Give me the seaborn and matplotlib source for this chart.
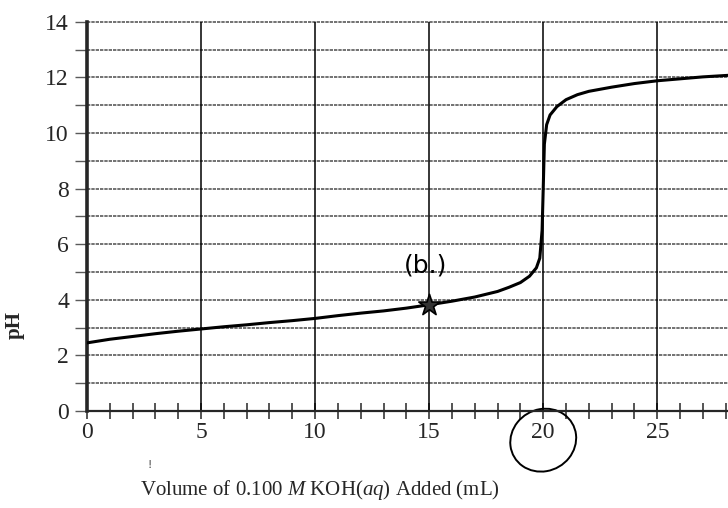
"""Titration curve: pH vs volume of 0.100 M KOH added."""

import seaborn as sns
import matplotlib.pyplot as plt
import matplotlib.patches as mpatches
from matplotlib.ticker import MultipleLocator
import pandas as pd

# Values.
volume_ml = [0, 1, 2, 3, 4, 5, 6, 7, 8, 9, 10, 11, 12, 13, 14, 15, 16, 17,
             18, 18.5, 19, 19.4, 19.7, 19.85, 19.95, 20.0, 20.05, 20.15,
             20.3, 20.6, 21, 21.5, 22, 23, 24, 25, 26, 27, 28.2]
ph_values = [2.45, 2.58, 2.68, 2.78, 2.87, 2.95, 3.03, 3.1, 3.18, 3.25,
             3.33, 3.43, 3.52, 3.6, 3.7, 3.82, 3.95, 4.1, 4.3, 4.45, 4.62,
             4.85, 5.15, 5.5, 6.5, 8.0, 9.6, 10.3, 10.65, 10.95, 11.2,
             11.38, 11.5, 11.65, 11.78, 11.88, 11.95, 12.02, 12.08]

x_ticks = [0, 5, 10, 15, 20, 25]
y_ticks = [0, 2, 4, 6, 8, 10, 12, 14]

# Handwritten marks on the scan.
star_point = (15, 3.8)
note_text = "(b.)"

df = pd.DataFrame({"volume": volume_ml, "ph": ph_values})

sns.set_style("ticks")
plt.rcParams["font.family"] = ["Liberation Serif", "DejaVu Serif"]
plt.rcParams["mathtext.fontset"] = "custom"
plt.rcParams["mathtext.it"] = "Liberation Serif:italic"
plt.rcParams["mathtext.rm"] = "Liberation Serif"

fig = plt.figure(figsize=(7.28, 5.08), dpi=100)
ax = fig.add_axes([0.1195, 0.191, 0.8805, 0.766])

# Grid: noisy grey horizontal rules, solid black verticals every 5 mL.
for y in range(1, 15):
    ax.axhline(y, color="#5a5a5a", lw=1.2, ls=(0, (2, 0.6)), zorder=1,
               clip_on=False)
for x in x_ticks[1:]:
    ax.axvline(x, color="black", lw=1.1, zorder=1)

# Titration curve.
sns.lineplot(data=df, x="volume", y="ph", color="black", lw=2.2, ax=ax,
             zorder=3, sort=False)

# Star and note.
ax.scatter([star_point[0]], [star_point[1]], marker="*", s=260,
           facecolor="#333333", edgecolor="black", linewidths=1.2, zorder=4)
ax.text(14.85, 5.25, note_text, fontsize=18, family="DejaVu Sans",
        color="black", ha="center", va="center", zorder=4)

# Circle drawn round the 20 label.
circle = mpatches.Ellipse((20.0, -1.05), 2.9, 2.25, angle=8, fill=False,
                          edgecolor="black", lw=1.4, clip_on=False)
ax.add_patch(circle)

# Stray pen mark below the axis.
fig.text(0.206, 0.085, "!", fontsize=9, color="#444444", ha="center",
         va="center")

# Axes limits and spines.
ax.set_xlim(0, 28.1)
ax.set_ylim(0, 14)
for side in ["top", "right"]:
    ax.spines[side].set_visible(False)
ax.spines["left"].set_linewidth(2.6)
ax.spines["bottom"].set_linewidth(1.6)

# Ticks.
ax.set_xticks(x_ticks)
ax.set_yticks(y_ticks)
ax.xaxis.set_minor_locator(MultipleLocator(1))
ax.yaxis.set_minor_locator(MultipleLocator(1))
ax.tick_params(axis="x", which="major", direction="inout", length=12,
               width=1.1, labelsize=17, pad=2)
ax.tick_params(axis="x", which="minor", direction="inout", length=12,
               width=1.1)
ax.tick_params(axis="y", which="both", direction="out", length=9,
               width=1.0, color="#5a5a5a", labelsize=17, pad=4)

# Labels, placed where the scan has them (left of centre).
ax.set_xlabel(r"Volume of 0.100 $\mathit{M}$ KOH($\mathit{aq}$) Added (mL)",
              fontsize=15)
ax.xaxis.set_label_coords(0.363, -0.172)
ax.set_ylabel("pH", fontsize=15, fontweight="bold")
ax.yaxis.set_label_coords(-0.097, 0.22)

fig.savefig("out.png", dpi=100)
plt.close()
